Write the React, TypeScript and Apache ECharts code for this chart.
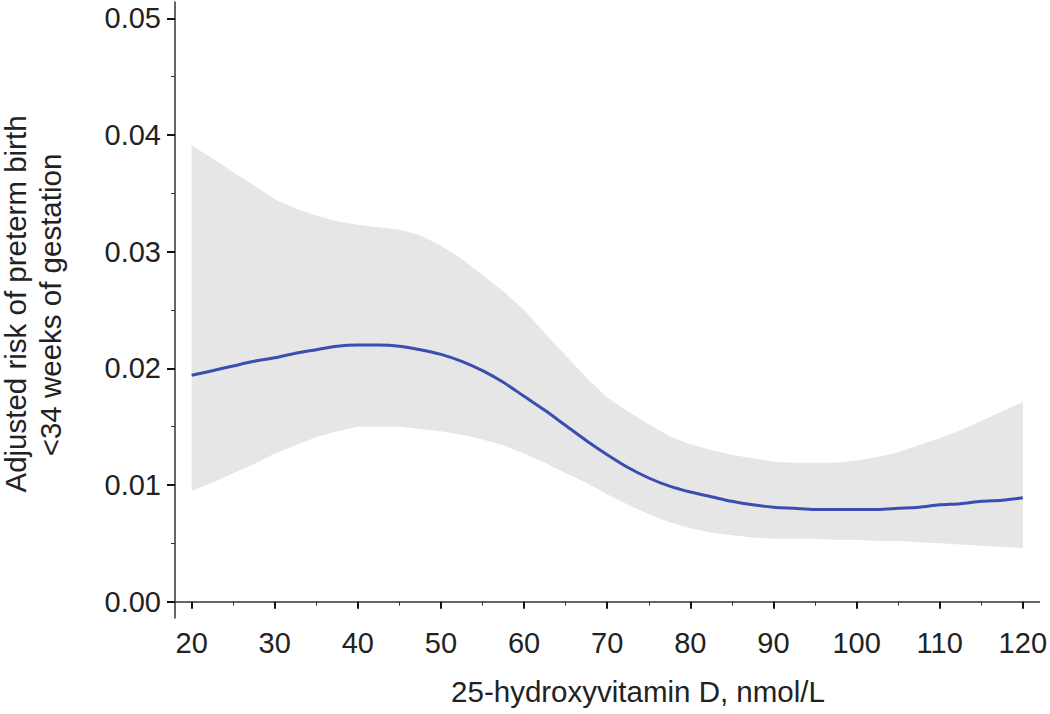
import React, { useEffect, useRef } from "react";
import * as echarts from "echarts";

const xValues = [
  20, 22.5, 25, 27.5, 30, 32.5, 35, 37.5, 40, 42.5, 45, 47.5, 50, 52.5, 55, 57.5, 60, 62.5, 65, 67.5,
  70, 72.5, 75, 77.5, 80, 82.5, 85, 87.5, 90, 92.5, 95, 97.5, 100, 102.5, 105, 107.5, 110, 112.5, 115,
  117.5, 120,
];
const riskEstimate = [
  0.0194, 0.0198, 0.0202, 0.0206, 0.0209, 0.0213, 0.0216, 0.0219, 0.022, 0.022, 0.0219, 0.0216, 0.0212,
  0.0206, 0.0198, 0.0188, 0.0176, 0.0164, 0.0151, 0.0138, 0.0126, 0.0115, 0.0106, 0.0099, 0.0094,
  0.009, 0.0086, 0.0083, 0.0081, 0.008, 0.0079, 0.0079, 0.0079, 0.0079, 0.008, 0.0081, 0.0083,
  0.0084, 0.0086, 0.0087, 0.0089,
];
const upperCI = [
  0.0391, 0.038, 0.0368, 0.0357, 0.0345, 0.0337, 0.0331, 0.0326, 0.0323, 0.0321, 0.0319, 0.0314,
  0.0305, 0.0294, 0.028, 0.0266, 0.025, 0.023, 0.0211, 0.0192, 0.0175, 0.0163, 0.0152, 0.0142, 0.0135,
  0.013, 0.0126, 0.0123, 0.012, 0.0119, 0.0119, 0.0119, 0.0121, 0.0124, 0.0128, 0.0134, 0.014, 0.0147,
  0.0155, 0.0163, 0.0171,
];
const lowerCI = [
  0.0095, 0.0102, 0.011, 0.0118, 0.0127, 0.0134, 0.0141, 0.0146, 0.015, 0.015, 0.015, 0.0148, 0.0146,
  0.0143, 0.0139, 0.0134, 0.0127, 0.0119, 0.011, 0.0102, 0.0092, 0.0083, 0.0075, 0.0068, 0.0063,
  0.0059, 0.0057, 0.0055, 0.0054, 0.0054, 0.0054, 0.0053, 0.0053, 0.0052, 0.0052, 0.0051, 0.005,
  0.0049, 0.0048, 0.0047, 0.0046,
];
const xMajorTicks = [20, 30, 40, 50, 60, 70, 80, 90, 100, 110, 120];
const xMinorTicks = [25, 35, 45, 55, 65, 75, 85, 95, 105, 115];
const yMajorTicks = [0, 0.01, 0.02, 0.03, 0.04, 0.05];
const yMinorTicks = [0.005, 0.015, 0.025, 0.035, 0.045];

const xTitle = "25-hydroxyvitamin D, nmol/L";
const yTitle1 = "Adjusted risk of preterm birth";
const yTitle2 = "<34 weeks of gestation";

const FONT = "'Liberation Sans', Arial, Helvetica, sans-serif";

export default function App() {
  const ref = useRef<HTMLDivElement>(null);
  useEffect(() => {
    if (!ref.current) return;
    const chart = echarts.init(ref.current, undefined, { renderer: "svg" });
    const bandData = xValues.map((x, i) => [x, lowerCI[i], upperCI[i]]);
    const lineData = xValues.map((x, i) => [x, riskEstimate[i]]);
    const axisColor = "#333";
    const textStyle = { fontFamily: FONT, fontSize: 29, color: "#222" };
    chart.setOption({
      animation: false,
      backgroundColor: "#fff",
      grid: { left: 175, right: 7, top: 2, bottom: 96, containLabel: false },
      xAxis: [
        {
          type: "value",
          min: 18,
          max: 122,
          axisLine: { show: true, lineStyle: { color: axisColor, width: 1.5 } },
          axisTick: {
            show: true,
            customValues: xMajorTicks,
            length: 7,
            lineStyle: { color: "#111", width: 2 },
          },
          axisLabel: {
            customValues: xMajorTicks,
            margin: 10,
            ...textStyle,
          },
          splitLine: { show: false },
        },
        {
          type: "value",
          min: 18,
          max: 122,
          position: "bottom",
          axisLine: { show: false },
          axisTick: {
            show: true,
            customValues: xMinorTicks,
            length: 4,
            lineStyle: { color: "#333", width: 1 },
          },
          axisLabel: { show: false },
          splitLine: { show: false },
        },
      ],
      yAxis: [
        {
          type: "value",
          min: -0.0014,
          max: 0.0514,
          axisLine: { show: true, lineStyle: { color: axisColor, width: 1.5 } },
          axisTick: {
            show: true,
            customValues: yMajorTicks,
            length: 8,
            lineStyle: { color: "#111", width: 2 },
          },
          axisLabel: {
            customValues: yMajorTicks,
            margin: 14,
            formatter: (v: number) => v.toFixed(2),
            ...textStyle,
          },
          splitLine: { show: false },
        },
        {
          type: "value",
          min: -0.0014,
          max: 0.0514,
          position: "left",
          axisLine: { show: false },
          axisTick: {
            show: true,
            customValues: yMinorTicks,
            length: 4,
            lineStyle: { color: "#333", width: 1 },
          },
          axisLabel: { show: false },
          splitLine: { show: false },
        },
      ],
      series: [
        {
          type: "custom",
          data: bandData,
          silent: true,
          z: 1,
          renderItem: (params: any, api: any) => {
            if (params.dataIndex !== 0) return null;
            const upper: number[][] = [];
            const lower: number[][] = [];
            for (let i = 0; i < bandData.length; i++) {
              lower.push(api.coord([bandData[i][0], bandData[i][1]]));
              upper.push(api.coord([bandData[i][0], bandData[i][2]]));
            }
            const pts = upper.concat(lower.reverse());
            return {
              type: "polygon",
              shape: { points: pts },
              style: { fill: "#e6e6e6", stroke: "none" },
            };
          },
          encode: { x: 0, y: [1, 2] },
        },
        {
          type: "line",
          data: lineData,
          smooth: 0.3,
          symbol: "none",
          lineStyle: { color: "#3a4db0", width: 3 },
          silent: true,
          z: 5,
        },
      ],
      graphic: [
        {
          type: "text",
          x: 638,
          y: 706,
          style: {
            text: xTitle,
            fontFamily: FONT,
            fontSize: 29.5,
            fill: "#222",
            align: "center",
            verticalAlign: "bottom",
          },
        },
        {
          type: "text",
          x: 15,
          y: 304,
          rotation: Math.PI / 2,
          style: {
            text: yTitle1,
            fontFamily: FONT,
            fontSize: 29.5,
            fill: "#222",
            align: "center",
            verticalAlign: "middle",
          },
        },
        {
          type: "text",
          x: 50,
          y: 305,
          rotation: Math.PI / 2,
          style: {
            text: yTitle2,
            fontFamily: FONT,
            fontSize: 29.5,
            fill: "#222",
            align: "center",
            verticalAlign: "middle",
          },
        },
      ],
    });
    return () => chart.dispose();
  }, []);
  return (
    <div
      ref={ref}
      style={{ position: "fixed", left: 0, top: 0, width: 1050, height: 714, background: "#fff" }}
    />
  );
}
